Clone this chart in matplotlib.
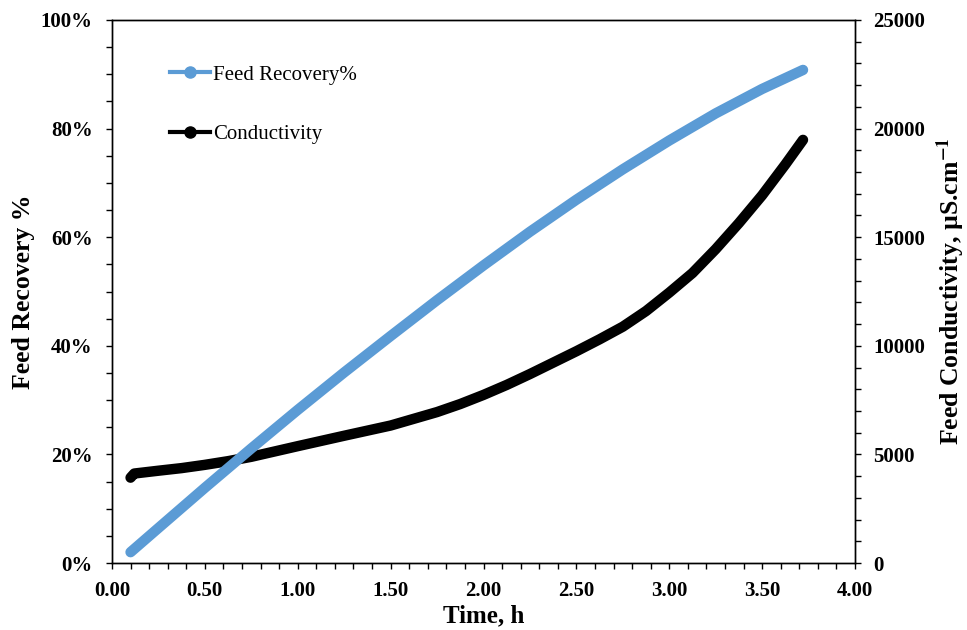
import matplotlib
matplotlib.use('Agg')
import matplotlib.pyplot as plt
from matplotlib.lines import Line2D
from matplotlib.ticker import MultipleLocator, FuncFormatter

plt.rcParams['font.family'] = ['Liberation Serif', 'DejaVu Serif']
plt.rcParams['mathtext.fontset'] = 'stix'

# values
rec_time = [0.10, 0.25, 0.50, 0.75, 1.00, 1.25, 1.50, 1.75, 2.00, 2.25, 2.50, 2.75, 3.00, 3.25, 3.50, 3.72]
recovery = [2.0, 6.45, 13.85, 21.1, 28.2, 35.1, 41.8, 48.4, 54.8, 61.0, 66.9, 72.5, 77.8, 82.8, 87.3, 90.8]

cond_time = [0.10, 0.12, 0.25, 0.375, 0.50, 0.625, 0.75, 1.00, 1.25, 1.50, 1.75, 1.875, 2.00, 2.125, 2.25, 2.50,
             2.625, 2.75, 2.875, 3.00, 3.125, 3.25, 3.375, 3.50, 3.625, 3.72]
conductivity = [3930, 4120, 4250, 4370, 4520, 4690, 4890, 5380, 5860, 6330, 6950, 7320, 7740, 8200, 8700, 9750,
                10300, 10880, 11600, 12450, 13350, 14450, 15650, 16930, 18350, 19480]

blue = '#5B9BD5'

fig = plt.figure(figsize=(9.67, 6.3), dpi=100)
ax = fig.add_axes([0.1158, 0.1063, 0.7684, 0.862])
ax2 = ax.twinx()

ax.plot(rec_time, recovery, color=blue, lw=7.5, solid_capstyle='round', solid_joinstyle='round')
ax2.plot(cond_time, conductivity, color='black', lw=7.5, solid_capstyle='round', solid_joinstyle='round')

# blue line sits above the black one
ax.set_zorder(ax2.get_zorder() + 1)
ax.patch.set_visible(False)

ax.set_xlim(0, 4)
ax.set_ylim(0, 100)
ax2.set_ylim(0, 25000)

ax.xaxis.set_major_locator(MultipleLocator(0.5))
ax.xaxis.set_minor_locator(MultipleLocator(0.1))
ax.xaxis.set_major_formatter(FuncFormatter(lambda v, p: '%.2f' % v))
ax.yaxis.set_major_locator(MultipleLocator(20))
ax.yaxis.set_minor_locator(MultipleLocator(5))
ax.yaxis.set_major_formatter(FuncFormatter(lambda v, p: '%d%%' % round(v)))
ax2.yaxis.set_major_locator(MultipleLocator(5000))
ax2.yaxis.set_minor_locator(MultipleLocator(1000))

for a in (ax, ax2):
    a.tick_params(which='both', direction='out', length=4, width=1.0, labelsize=15, pad=9)
    for s in a.spines.values():
        s.set_linewidth(1.0)
    for lab in a.get_xticklabels() + a.get_yticklabels():
        lab.set_fontweight('bold')
ax.tick_params(axis='y', pad=10)
ax.xaxis.set_ticks_position('bottom')

ax.set_xlabel('Time, h', fontsize=18, fontweight='bold', labelpad=2)
ax.set_ylabel('Feed Recovery %', fontsize=18.5, fontweight='bold', labelpad=4)
ax2.set_ylabel('Feed Conductivity, µS.cm$^{\\mathbf{-1}}$', fontsize=18.5, fontweight='bold', labelpad=7)

handles = [Line2D([], [], color=blue, lw=3, marker='o', ms=8),
           Line2D([], [], color='black', lw=3, marker='o', ms=8)]
ax.legend(handles, ['Feed Recovery%', 'Conductivity'], loc='upper left',
          bbox_to_anchor=(170 / 967, 1 - 65 / 630), bbox_transform=fig.transFigure,
          frameon=False, fontsize=15, handlelength=1.9, handletextpad=0.15,
          labelspacing=1.92, borderpad=0, borderaxespad=0)

fig.savefig('out.png', dpi=100)
